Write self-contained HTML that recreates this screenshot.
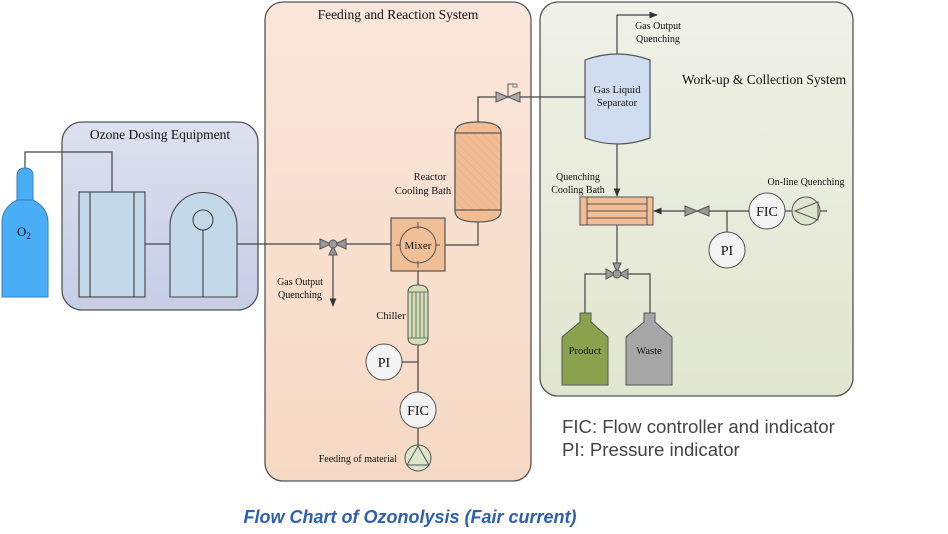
<!DOCTYPE html>
<html><head><meta charset="utf-8"><style>
html,body{margin:0;padding:0;background:#fff;}
svg{display:block;}
text{font-family:"Liberation Serif",serif;fill:#111;}
</style></head><body>
<svg width="948" height="534" viewBox="0 0 948 534" xmlns="http://www.w3.org/2000/svg">
<defs>
<linearGradient id="gb" x1="0" y1="0" x2="0" y2="1"><stop offset="0" stop-color="#dde1ee"/><stop offset="1" stop-color="#c6cde6"/></linearGradient>
<linearGradient id="gg" x1="0" y1="0" x2="0" y2="1"><stop offset="0" stop-color="#f0f1e8"/><stop offset="1" stop-color="#e1e6cf"/></linearGradient>
<linearGradient id="go" x1="0" y1="0" x2="0" y2="1"><stop offset="0" stop-color="#fae6da"/><stop offset="1" stop-color="#f6d9c4"/></linearGradient>
<pattern id="hatch" width="6" height="6" patternUnits="userSpaceOnUse" patternTransform="rotate(-45)"><rect width="6" height="6" fill="#f2bd94"/><line x1="0" y1="0" x2="0" y2="6" stroke="#e6a77c" stroke-width="1"/></pattern>
<marker id="ar" viewBox="0 0 10 10" refX="9" refY="5" markerWidth="7" markerHeight="7" orient="auto"><path d="M0,1 L10,5 L0,9 z" fill="#333"/></marker>
</defs>
<g stroke="#555" stroke-width="1.3">
<rect x="62" y="122" width="196" height="188" rx="20" fill="url(#gb)"/>
<rect x="265" y="2" width="266" height="479" rx="18" fill="url(#go)"/>
<rect x="540" y="2" width="313" height="394" rx="18" fill="url(#gg)"/>
</g>
<text x="160" y="139" font-size="13.5" text-anchor="middle">Ozone Dosing Equipment</text>
<text x="398" y="19" font-size="13.5" text-anchor="middle">Feeding and Reaction System</text>
<text x="764" y="84" font-size="13.5" text-anchor="middle">Work-up &amp; Collection System</text>

<g stroke="#444" stroke-width="1.2" fill="none">
<polyline points="25,168 25,152 112,152 112,192"/>
<line x1="145" y1="244" x2="170" y2="244"/>
<line x1="237" y1="244" x2="391" y2="244"/>
<line x1="333" y1="248" x2="333" y2="306" marker-end="url(#ar)"/>
<polyline points="445,245 478,245 478,222"/>
<polyline points="478,122 478,97 585,97"/>
<line x1="418" y1="271" x2="418" y2="285"/>
<line x1="418" y1="345" x2="418" y2="471"/>
<line x1="402" y1="362" x2="418" y2="362"/>
<polyline points="617,55 617,15 657,15" marker-end="url(#ar)"/>
<line x1="617" y1="143" x2="617" y2="196" marker-end="url(#ar)"/>
<line x1="749" y1="211" x2="654" y2="211" marker-end="url(#ar)"/>
<line x1="785" y1="211" x2="792" y2="211"/>
<line x1="820" y1="211" x2="827" y2="211"/>
<line x1="727" y1="211" x2="727" y2="232"/>
<line x1="617" y1="225" x2="617" y2="266"/>
<polyline points="585,313 585,274 650,274 650,313"/>
</g>

<path d="M17,200 L17,176 Q17,168 25,168 Q33,168 33,176 L33,200 Q48,208 48,222 L48,297 L2,297 L2,222 Q2,208 17,200 z" fill="#4aaef6" stroke="#3a7fc0" stroke-width="1"/>
<line x1="17" y1="200" x2="33" y2="200" stroke="#3a7fc0"/>
<text x="17" y="236" font-size="13">O<tspan font-size="9" dy="3">2</tspan></text>

<g stroke="#444" stroke-width="1.1" fill="#c3d8e9">
<rect x="79" y="192" width="66" height="105"/>
<line x1="90" y1="192" x2="90" y2="297"/>
<line x1="134" y1="192" x2="134" y2="297"/>
<path d="M170,297 L170,226 A33.5,33.5 0 0 1 237,226 L237,297 z"/>
<circle cx="203" cy="220" r="10"/>
<line x1="203" y1="230" x2="203" y2="297"/>
</g>

<g fill="#999" stroke="#555" stroke-width="1">
<path d="M320,239 L331,244 L320,249 z"/><path d="M346,239 L335,244 L346,249 z"/>
<path d="M329,255 L333,246 L337,255 z"/><circle cx="333" cy="244" r="4"/>
</g>
<text x="300" y="285" font-size="10" text-anchor="middle">Gas Output</text>
<text x="300" y="298" font-size="10" text-anchor="middle">Quenching</text>

<rect x="391" y="218" width="54" height="53" fill="#f0bf96" stroke="#555" stroke-width="1.2"/>
<circle cx="418" cy="245" r="18" fill="#f0bf96" stroke="#555"/>
<g stroke="#555"><line x1="418" y1="222" x2="418" y2="229"/><line x1="418" y1="261" x2="418" y2="268"/><line x1="396" y1="245" x2="401" y2="245"/><line x1="435" y1="245" x2="440" y2="245"/></g>
<text x="418" y="249" font-size="11" text-anchor="middle">Mixer</text>

<path d="M455,133 Q455,122 478,122 Q501,122 501,133 L501,211 Q501,222 478,222 Q455,222 455,211 z" fill="#f2bd94" stroke="#555" stroke-width="1.2"/>
<rect x="455" y="133" width="46" height="77" fill="url(#hatch)" stroke="#555" stroke-width="1.2"/>
<text x="430" y="180" font-size="10.5" text-anchor="middle">Reactor</text>
<text x="423" y="194" font-size="10.5" text-anchor="middle">Cooling Bath</text>

<g fill="#aaa" stroke="#555" stroke-width="1"><path d="M496,92 L508,97 L496,102 z"/><path d="M520,92 L508,97 L520,102 z"/></g>
<polyline points="508,97 508,84 514,84" fill="none" stroke="#555"/><rect x="513" y="84" width="4" height="3" fill="#fff" stroke="#555" stroke-width="0.8"/>

<path d="M408,292 Q408,285 418,285 Q428,285 428,292 L428,338 Q428,345 418,345 Q408,345 408,338 z" fill="#d3dfb6" stroke="#555"/>
<g stroke="#555" stroke-width="0.8"><line x1="408" y1="292" x2="428" y2="292"/><line x1="408" y1="338" x2="428" y2="338"/><line x1="412" y1="292" x2="412" y2="338"/><line x1="416" y1="292" x2="416" y2="338"/><line x1="420" y1="292" x2="420" y2="338"/><line x1="424" y1="292" x2="424" y2="338"/></g>
<text x="391" y="319" font-size="10.5" text-anchor="middle">Chiller</text>

<g fill="#f3f3f3" stroke="#555" stroke-width="1">
<circle cx="384" cy="362" r="18"/><circle cx="418" cy="410" r="18"/>
<circle cx="727" cy="250" r="18"/><circle cx="767" cy="211" r="18"/>
</g>
<text x="384" y="367" font-size="14" text-anchor="middle">PI</text>
<text x="418" y="415" font-size="14" text-anchor="middle">FIC</text>
<text x="727" y="255" font-size="14" text-anchor="middle">PI</text>
<text x="767" y="216" font-size="14" text-anchor="middle">FIC</text>

<circle cx="418" cy="458" r="13" fill="#dde5cc" stroke="#555"/>
<path d="M418,446 L407,465 L429,465 z" fill="none" stroke="#555"/>
<text x="397" y="462" font-size="10" text-anchor="end">Feeding of material</text>
<circle cx="806" cy="211" r="14" fill="#dde5cc" stroke="#555"/>
<path d="M795,211 L818,202 L818,220 z" fill="none" stroke="#555"/>
<text x="806" y="185" font-size="10" text-anchor="middle">On-line Quenching</text>

<g fill="#999" stroke="#555" stroke-width="1"><path d="M685,206 L697,211 L685,216 z"/><path d="M709,206 L697,211 L709,216 z"/></g>

<path d="M585,60 Q617,48 650,60 L650,138 Q617,150 585,138 z" fill="#d0dcf0" stroke="#555" stroke-width="1.2"/>
<text x="617" y="93" font-size="10.5" text-anchor="middle">Gas Liquid</text>
<text x="617" y="106" font-size="10.5" text-anchor="middle">Separator</text>
<text x="658" y="29" font-size="10" text-anchor="middle">Gas Output</text>
<text x="658" y="42" font-size="10" text-anchor="middle">Quenching</text>

<rect x="580" y="197" width="73" height="28" fill="#f2bd94" stroke="#555"/>
<g stroke="#555" stroke-width="1"><line x1="587" y1="197" x2="587" y2="225"/><line x1="647" y1="197" x2="647" y2="225"/><line x1="587" y1="204" x2="647" y2="204"/><line x1="587" y1="211" x2="647" y2="211"/><line x1="587" y1="218" x2="647" y2="218"/></g>
<text x="578" y="180" font-size="10" text-anchor="middle">Quenching</text>
<text x="578" y="193" font-size="10" text-anchor="middle">Cooling Bath</text>

<g fill="#999" stroke="#555" stroke-width="1">
<path d="M606,269 L615,274 L606,279 z"/><path d="M628,269 L619,274 L628,279 z"/>
<path d="M613,263 L617,272 L621,263 z"/><circle cx="617" cy="274" r="4"/>
</g>

<path d="M580,313 L591,313 L591,322 L608,337 L608,385 L562,385 L562,337 L580,322 z" fill="#8aa24e" stroke="#555"/>
<text x="585" y="354" font-size="10.5" text-anchor="middle">Product</text>
<path d="M644,313 L655,313 L655,322 L672,337 L672,385 L626,385 L626,337 L644,322 z" fill="#a6a6a6" stroke="#555"/>
<text x="649" y="354" font-size="10.5" text-anchor="middle">Waste</text>

<text x="562" y="433" font-size="18.6" style="font-family:'Liberation Sans',sans-serif;fill:#444">FIC: Flow controller and indicator</text>
<text x="562" y="456" font-size="18.6" style="font-family:'Liberation Sans',sans-serif;fill:#444">PI: Pressure indicator</text>
<text x="410" y="523" font-size="18" font-weight="bold" font-style="italic" text-anchor="middle" style="font-family:'Liberation Sans',sans-serif;fill:#2e5fb0">Flow Chart of Ozonolysis (Fair current)</text>
</svg>
</body></html>
